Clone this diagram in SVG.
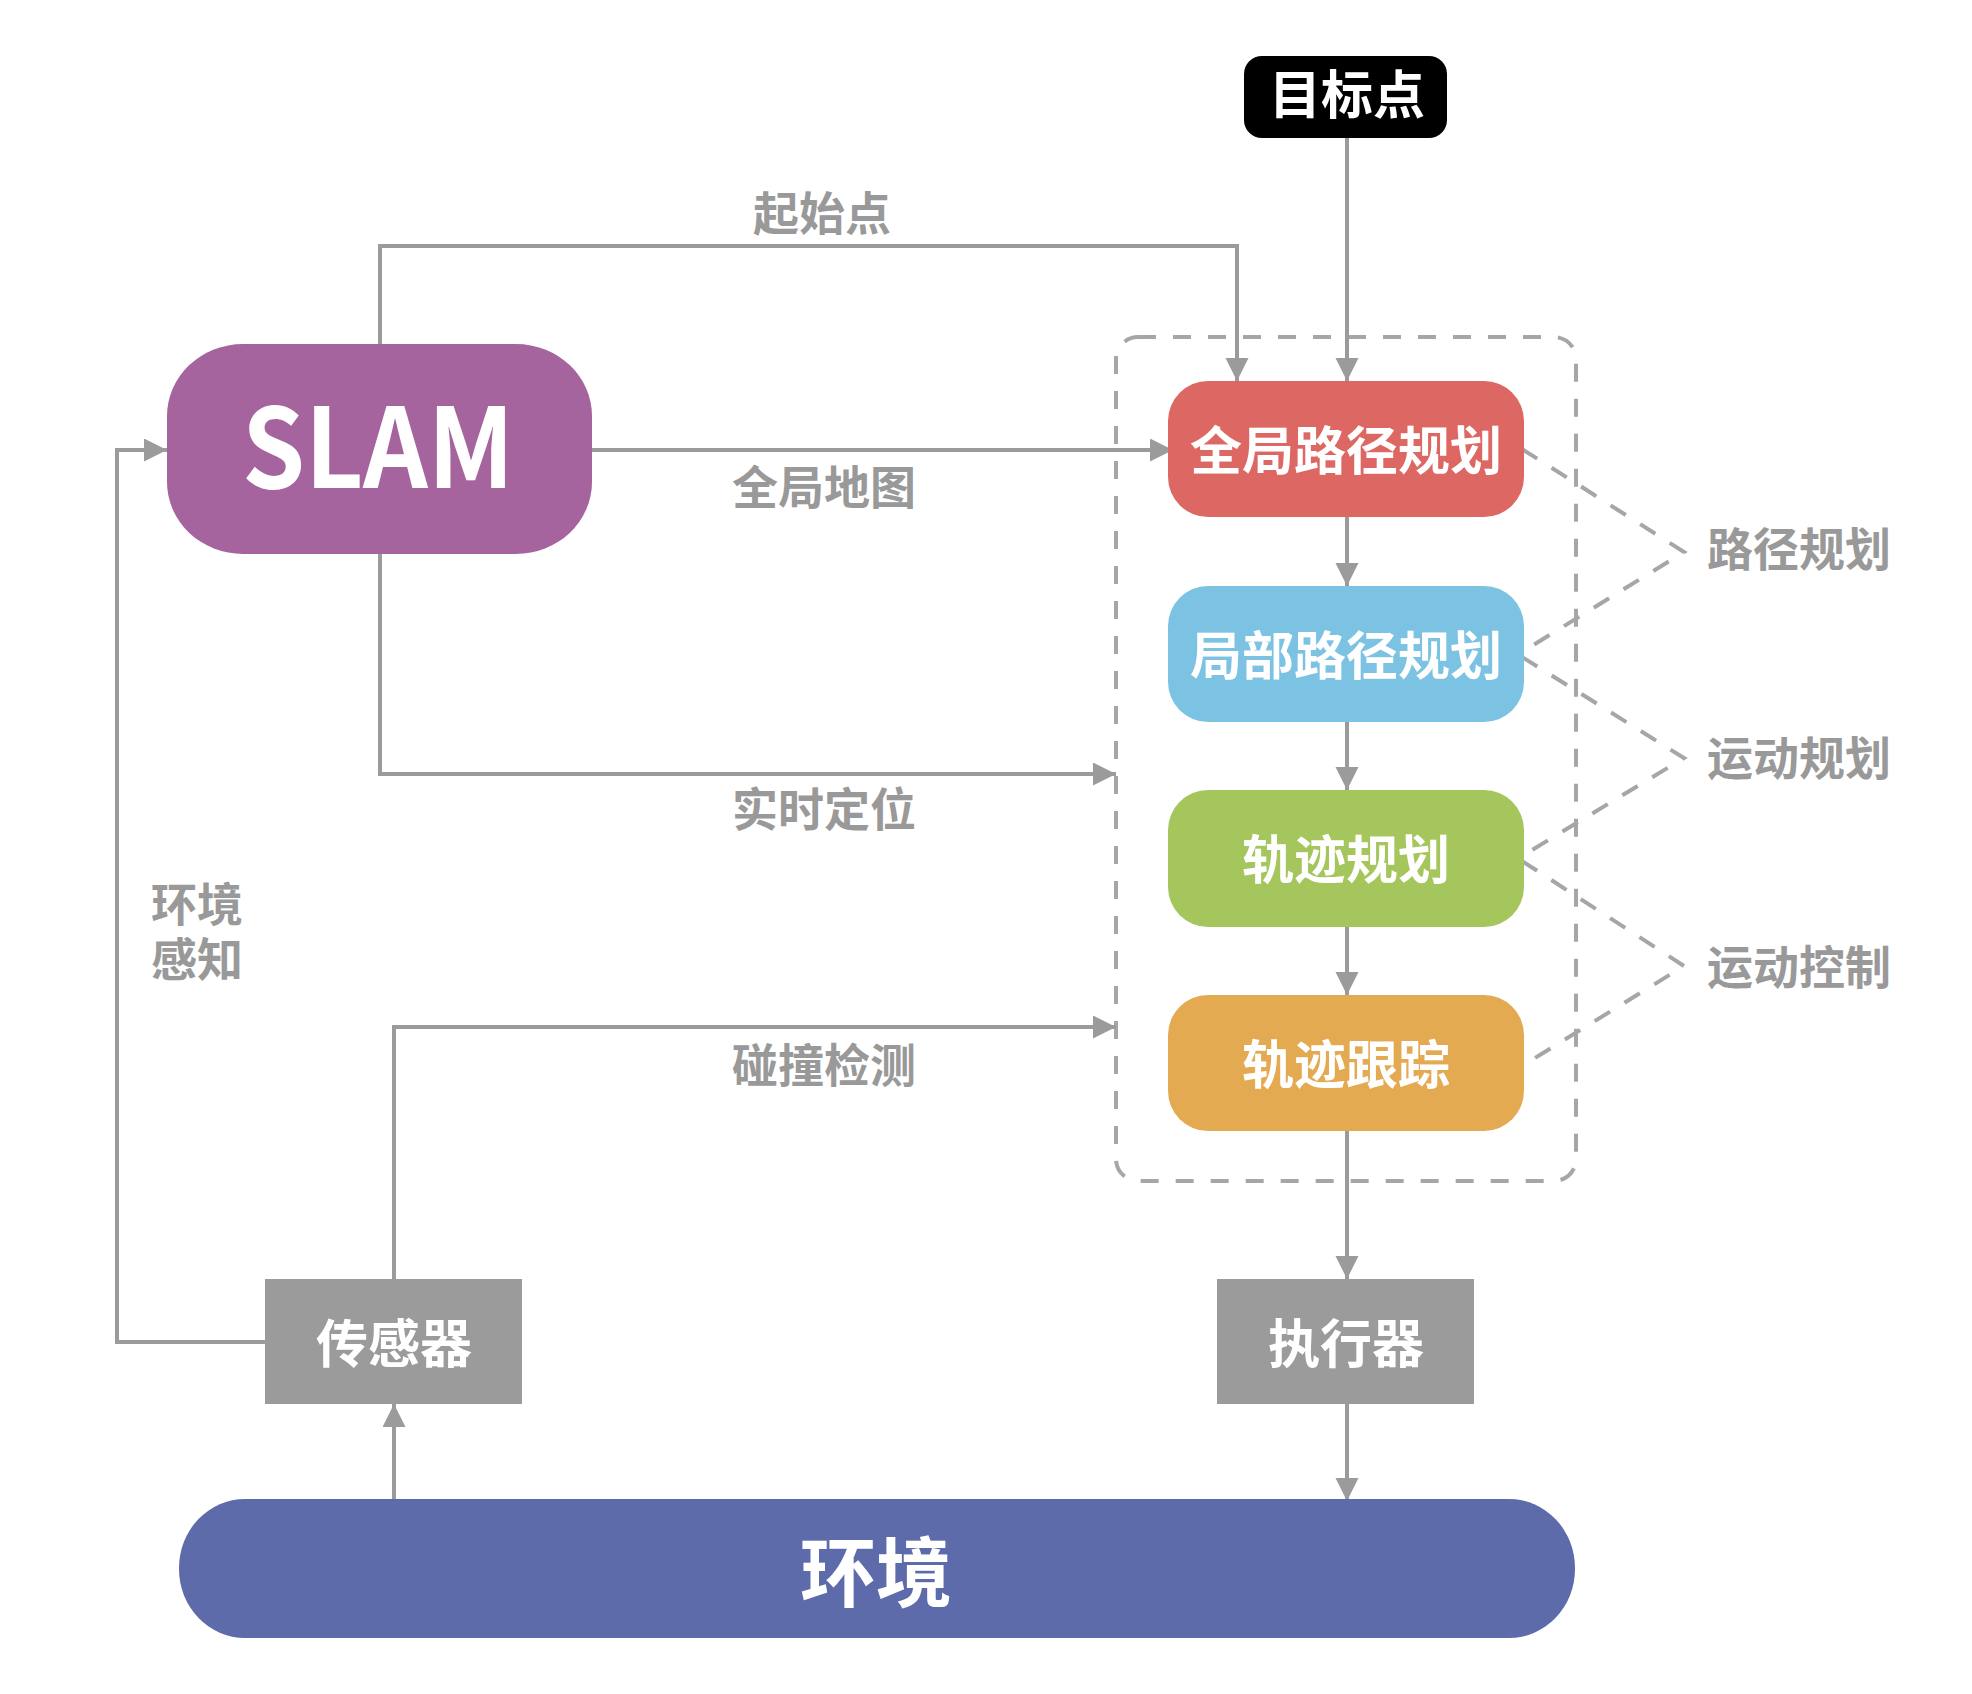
<svg xmlns="http://www.w3.org/2000/svg" width="1972" height="1694" viewBox="0 0 1972 1694">
<style>
  .t { font-family: "Noto Sans CJK SC", "Noto Sans", sans-serif; font-weight: 700; }
  .w { fill: #ffffff; font-size: 52px; text-anchor: middle; }
  .lbl { fill: #999999; font-size: 46px; }
  .c { fill: none; stroke: #9B9B9B; stroke-width: 4; }
  .d { fill: none; stroke: #A6A6A6; stroke-width: 4; stroke-dasharray: 18 17; }
</style>
<defs>
  <marker id="ah" markerUnits="userSpaceOnUse" markerWidth="24" markerHeight="24" refX="23" refY="11.5" orient="auto">
    <path d="M0,0 L23,11.5 L0,23 Z" fill="#9B9B9B"/>
  </marker>
</defs>
<rect width="1972" height="1694" fill="#ffffff"/>

<g id="group-box">
  <rect x="1116" y="337" width="460" height="844" rx="22" ry="22" class="d"/>
</g>

<g id="connectors">
  <path class="c" d="M1347,138 V381" marker-end="url(#ah)"/>
  <path class="c" d="M380,344 V246 H1237 V381" marker-end="url(#ah)"/>
  <path class="c" d="M592,450 H1173" marker-end="url(#ah)"/>
  <path class="c" d="M380,554 V774 H1116" marker-end="url(#ah)"/>
  <path class="c" d="M394,1279 V1027 H1116" marker-end="url(#ah)"/>
  <path class="c" d="M265,1342 H117 V450 H167" marker-end="url(#ah)"/>
  <path class="c" d="M394,1499 V1404" marker-end="url(#ah)"/>
  <path class="c" d="M1347,517 V586" marker-end="url(#ah)"/>
  <path class="c" d="M1347,722 V790" marker-end="url(#ah)"/>
  <path class="c" d="M1347,927 V995" marker-end="url(#ah)"/>
  <path class="c" d="M1347,1131 V1279" marker-end="url(#ah)"/>
  <path class="c" d="M1347,1404 V1501" marker-end="url(#ah)"/>
  <path class="d" d="M1522,449 L1684,552 L1522,652"/>
  <path class="d" d="M1522,657 L1684,758 L1522,856"/>
  <path class="d" d="M1522,861 L1684,966 L1522,1066"/>
</g>

<g id="edge-labels" class="t lbl">
  <text x="822" y="230" text-anchor="middle">起始点</text>
  <text x="824" y="504" text-anchor="middle">全局地图</text>
  <text x="824" y="826" text-anchor="middle">实时定位</text>
  <text x="824" y="1082" text-anchor="middle">碰撞检测</text>
  <text x="151" y="921">环境<tspan x="151" y="976">感知</tspan></text>
  <text x="1707" y="566">路径规划</text>
  <text x="1707" y="775">运动规划</text>
  <text x="1707" y="984">运动控制</text>
</g>

<g id="node-target">
  <rect x="1244" y="56" width="203" height="82" rx="18" ry="18" fill="#000000"/>
  <text class="t w" x="1347" y="114">目标点</text>
</g>

<g id="node-slam">
  <rect x="167" y="344" width="425" height="210" rx="76" ry="72" fill="#A5649E"/>
  <text class="t" x="378" y="488" fill="#ffffff" font-size="110" text-anchor="middle" textLength="272" lengthAdjust="spacingAndGlyphs">SLAM</text>
</g>

<g id="node-global">
  <rect x="1168" y="381" width="356" height="136" rx="40" ry="40" fill="#DD6863"/>
  <text class="t w" x="1346" y="470">全局路径规划</text>
</g>

<g id="node-local">
  <rect x="1168" y="586" width="356" height="136" rx="40" ry="40" fill="#7CC3E3"/>
  <text class="t w" x="1346" y="675">局部路径规划</text>
</g>

<g id="node-traj-plan">
  <rect x="1168" y="790" width="356" height="137" rx="40" ry="40" fill="#A4C65D"/>
  <text class="t w" x="1346" y="879">轨迹规划</text>
</g>

<g id="node-traj-track">
  <rect x="1168" y="995" width="356" height="136" rx="40" ry="40" fill="#E4AA51"/>
  <text class="t w" x="1346" y="1084">轨迹跟踪</text>
</g>

<g id="node-sensor">
  <rect x="265" y="1279" width="257" height="125" fill="#9B9B9B"/>
  <text class="t w" x="394" y="1363">传感器</text>
</g>

<g id="node-actuator">
  <rect x="1217" y="1279" width="257" height="125" fill="#9B9B9B"/>
  <text class="t w" x="1346" y="1363">执行器</text>
</g>

<g id="node-env">
  <rect x="179" y="1499" width="1396" height="139" rx="66" ry="69" fill="#5D6BAB"/>
  <text class="t" x="876" y="1601" fill="#ffffff" font-size="76" text-anchor="middle">环境</text>
</g>
</svg>
